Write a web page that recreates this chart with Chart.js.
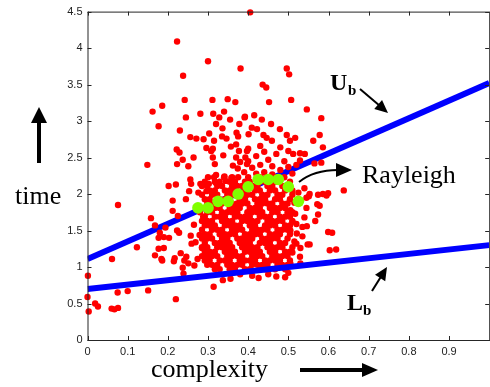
<!DOCTYPE html>
<html>
<head>
<meta charset="utf-8">
<script src="https://cdn.jsdelivr.net/npm/chart.js@4.4.1/dist/chart.umd.min.js"></script>
<style>
html, body { margin: 0; padding: 0; background: #fff; overflow: hidden; }
canvas { display: block; }
</style>
</head>
<body>
<canvas id="myChart" width="495" height="387"></canvas>
<script>
// tick values
const xTicks = [0, 0.1, 0.2, 0.3, 0.4, 0.5, 0.6, 0.7, 0.8, 0.9];
const yTicks = [0, 0.5, 1, 1.5, 2, 2.5, 3, 3.5, 4, 4.5];

// bound lines (complexity -> time)
const upperBound = [[0, 1.11], [1, 3.52]];
const lowerBound = [[0, 0.70], [1, 1.30]];

// rayleigh points (green)
const rayleighX = [0.275, 0.300, 0.325, 0.350, 0.375, 0.400, 0.425, 0.450, 0.475, 0.500, 0.525];
const rayleighY = [1.81, 1.81, 1.90, 1.90, 2.00, 2.10, 2.20, 2.20, 2.20, 2.10, 1.90];

// scattered samples, read one by one
const samples = [
  [0.223,4.09],[0.300,3.82],[0.381,3.72],[0.238,3.62],[0.242,3.29],[0.311,3.29],[0.349,3.30],[0.368,3.26],
  [0.162,3.13],[0.186,3.21],[0.177,2.93],[0.245,3.05],[0.281,3.10],[0.313,3.10],[0.328,3.05],[0.340,3.13],
  [0.355,3.02],[0.378,2.96],[0.392,3.06],[0.230,2.87],[0.320,2.96],[0.336,2.90],[0.256,2.78],[0.271,2.76],
  [0.289,2.75],[0.303,2.83],[0.315,2.73],[0.335,2.79],[0.346,2.76],[0.357,2.65],[0.370,2.68],[0.371,2.84],
  [0.375,2.79],[0.397,2.59],[0.222,2.61],[0.229,2.57],[0.237,2.47],[0.264,2.50],[0.296,2.63],[0.312,2.62],
  [0.308,2.59],[0.312,2.50],[0.338,2.53],[0.370,2.50],[0.377,2.59],[0.393,2.50],[0.251,2.38],[0.223,2.41],
  [0.149,2.40],[0.317,2.41],[0.362,2.39],[0.374,2.35],[0.397,2.41],[0.256,2.20],[0.320,2.26],[0.341,2.24],
  [0.358,2.22],[0.202,2.11],[0.220,2.13],[0.258,2.14],[0.281,2.14],[0.290,2.14],[0.302,2.14],[0.320,2.15],
  [0.344,2.18],[0.212,1.91],[0.245,1.93],[0.253,2.04],[0.276,2.02],[0.296,2.04],
  [0.076,1.85],[0.158,1.67],[0.168,1.57],[0.194,1.54],[0.212,1.77],[0.225,1.70],[0.223,1.50],[0.228,1.47],
  [0.180,1.47],[0.177,1.40],[0.190,1.41],[0.203,1.40],[0.177,1.25],[0.168,1.16],[0.184,1.11],[0.186,1.09],
  [0.123,1.27],[0.190,1.26],[0.217,1.12],[0.215,1.08],[0.232,1.19],[0.237,0.99],[0.239,0.91],[0.241,1.09],
  [0.257,1.43],[0.259,1.32],[0.246,1.14],[0.251,1.05],[0.266,1.02],[0.274,1.11],[0.265,1.58],[0.269,1.34],
  [0.279,1.44],[0.285,1.26],[0.280,1.75],[0.288,1.69],[0.061,1.11],[0.001,0.88],[0.000,0.59],[0.003,0.39],
  [0.019,0.50],[0.026,0.46],[0.060,0.43],[0.067,0.42],[0.076,0.44],[0.075,0.65],[0.100,0.67],[0.151,0.68],
  [0.220,0.56],[0.314,0.73],[0.337,0.82],[0.356,0.84],[0.426,0.85],[0.492,0.86],
  [0.603,1.23],[0.619,1.24],[0.599,1.48],[0.609,1.47],[0.548,1.31],[0.553,1.31],[0.535,1.42],[0.546,1.56],
  [0.567,1.63],[0.574,1.72],[0.572,1.86],[0.578,1.84],[0.545,1.81],[0.551,1.97],[0.574,1.99],[0.595,1.98],
  [0.531,1.91],[0.517,1.73],[0.520,1.59],[0.521,1.46],[0.520,1.32],[0.529,1.14],
  [0.405,4.49],[0.496,3.72],[0.502,3.64],[0.436,3.50],[0.445,3.46],[0.452,3.26],[0.507,3.29],[0.546,3.16],
  [0.582,3.04],[0.391,3.05],[0.415,3.08],[0.434,3.02],[0.457,2.96],[0.479,2.89],[0.409,2.91],[0.422,2.89],
  [0.401,2.82],[0.438,2.81],[0.446,2.77],[0.459,2.73],[0.496,2.81],[0.504,2.73],[0.517,2.77],[0.562,2.73],
  [0.578,2.81],[0.586,2.64],[0.480,2.64],[0.500,2.59],[0.512,2.55],[0.529,2.56],[0.541,2.55],[0.565,2.42],
  [0.582,2.43],[0.529,2.46],[0.638,2.05],[0.586,2.00],[0.553,2.00],[0.599,2.01],
  [0.400,2.45],[0.410,2.36],[0.420,2.52],[0.430,2.40],[0.440,2.30],[0.450,2.47],[0.460,2.38],[0.470,2.55],
  [0.480,2.33],[0.490,2.45],[0.420,2.28],[0.390,2.30],[0.400,2.62],[0.440,2.58],[0.460,2.27],[0.500,2.37],
  [0.510,2.28],[0.380,2.44],[0.430,2.66],[0.520,2.40],
  [0.505,1.05],[0.510,1.20],[0.515,1.35],[0.505,1.50],[0.510,1.62],[0.505,1.78],[0.515,1.88],[0.530,1.26],
  [0.535,1.55],[0.540,1.68],[0.530,1.05],[0.525,2.02],[0.540,2.08],[0.545,1.95],
  [0.380,0.90],[0.410,0.88],[0.450,0.90],[0.470,0.87],[0.500,0.92],[0.360,0.92]
];

// the dense middle of the cloud, read row by row: [time, complexities]
const denseRows = [
  [2.23, [0.300,0.315,0.340,0.360,0.375,0.400,0.430,0.445,0.470,0.490]],
  [2.17, [0.292,0.317,0.329,0.354,0.367,0.392,0.404,0.429,0.442,0.467,0.479,0.504]],
  [2.11, [0.285,0.298,0.323,0.335,0.360,0.373,0.385,0.410,0.423,0.448,0.460,0.485,0.498]],
  [2.05, [0.304,0.317,0.342,0.354,0.367,0.392,0.417,0.429,0.454,0.467,0.492,0.510]],
  [1.99, [0.285,0.310,0.323,0.348,0.360,0.385,0.398,0.410,0.435,0.448,0.473,0.485,0.510]],
  [1.93, [0.292,0.304,0.329,0.342,0.354,0.379,0.392,0.417,0.429,0.442,0.467,0.479,0.504]],
  [1.87, [0.298,0.310,0.323,0.335,0.360,0.373,0.385,0.398,0.423,0.435,0.448,0.460,0.485,0.498]],
  [1.81, [0.304,0.317,0.329,0.354,0.367,0.379,0.404,0.417,0.429,0.454,0.467,0.479,0.492]],
  [1.75, [0.298,0.310,0.335,0.348,0.360,0.373,0.398,0.410,0.423,0.435,0.460,0.473,0.498,0.510]],
  [1.69, [0.292,0.317,0.329,0.342,0.367,0.379,0.392,0.404,0.429,0.442,0.454,0.479,0.492,0.504]],
  [1.63, [0.285,0.298,0.310,0.335,0.348,0.360,0.385,0.398,0.410,0.423,0.448,0.460,0.473,0.485,0.510]],
  [1.57, [0.292,0.304,0.317,0.342,0.354,0.367,0.379,0.404,0.417,0.442,0.454,0.467,0.492,0.504]],
  [1.51, [0.285,0.310,0.323,0.335,0.360,0.373,0.385,0.410,0.423,0.435,0.448,0.473,0.485,0.498]],
  [1.45, [0.292,0.304,0.329,0.342,0.354,0.367,0.392,0.404,0.417,0.429,0.454,0.467,0.479,0.504]],
  [1.39, [0.285,0.298,0.310,0.335,0.348,0.373,0.385,0.398,0.410,0.435,0.448,0.460,0.473,0.498]],
  [1.33, [0.292,0.317,0.329,0.342,0.354,0.379,0.392,0.404,0.429,0.442,0.454,0.479,0.492]],
  [1.27, [0.285,0.298,0.323,0.335,0.348,0.360,0.385,0.398,0.410,0.423,0.448,0.460,0.473,0.485,0.510]],
  [1.21, [0.292,0.304,0.317,0.342,0.354,0.367,0.392,0.404,0.417,0.429,0.454,0.467,0.492,0.504]],
  [1.15, [0.285,0.298,0.310,0.323,0.348,0.360,0.373,0.385,0.410,0.423,0.435,0.460,0.473,0.485,0.498]],
  [1.09, [0.292,0.304,0.329,0.342,0.354,0.379,0.392,0.404,0.417,0.442,0.454,0.467,0.479,0.504]],
  [1.03, [0.298,0.310,0.323,0.348,0.360,0.373,0.385,0.410,0.423,0.435,0.448,0.473,0.485,0.498]],
  [0.97, [0.317,0.329,0.354,0.367,0.392,0.404,0.429,0.442,0.467,0.492]]
];

let redPts = samples.map(p => ({ x: p[0], y: p[1] }));
denseRows.forEach(row => {
  row[1].forEach(x => redPts.push({ x: x, y: row[0] }));
});
const greenPts = rayleighX.map((x, i) => ({ x: x, y: rayleighY[i] }));
const ubPts = upperBound.map(p => ({ x: p[0], y: p[1] }));
const lbPts = lowerBound.map(p => ({ x: p[0], y: p[1] }));

function arrowHead(ctx, tipX, tipY, angle, len, half) {
  ctx.save();
  ctx.translate(tipX, tipY);
  ctx.rotate(angle);
  ctx.beginPath();
  ctx.moveTo(0, 0);
  ctx.lineTo(-len, -half);
  ctx.lineTo(-len, half);
  ctx.closePath();
  ctx.fill();
  ctx.restore();
}

// frame, inward ticks, labels and arrows
const decorations = {
  id: 'decorations',
  afterDraw(chart) {
    const ctx = chart.ctx;
    const a = chart.chartArea;
    const xs = chart.scales.x, ys = chart.scales.y;
    ctx.save();
    ctx.strokeStyle = '#262626';
    ctx.lineWidth = 1;
    ctx.strokeRect(a.left + 0.5, a.top + 0.5, a.right - a.left, a.bottom - a.top);
    ctx.beginPath();
    xTicks.forEach(v => {
      const px = Math.round(xs.getPixelForValue(v)) + 0.5;
      ctx.moveTo(px, a.bottom); ctx.lineTo(px, a.bottom - 4);
      ctx.moveTo(px, a.top); ctx.lineTo(px, a.top + 4);
    });
    yTicks.forEach(v => {
      const py = Math.round(ys.getPixelForValue(v)) + 0.5;
      ctx.moveTo(a.left, py); ctx.lineTo(a.left + 4, py);
      ctx.moveTo(a.right, py); ctx.lineTo(a.right - 4, py);
    });
    ctx.stroke();

    ctx.fillStyle = '#000';
    ctx.strokeStyle = '#000';
    ctx.textBaseline = 'alphabetic';
    ctx.textAlign = 'left';

    // axis titles
    ctx.font = '26px "Liberation Serif"';
    ctx.fillText('time', 15, 204);
    ctx.fillText('complexity', 151, 377);

    // up arrow
    ctx.lineWidth = 4;
    ctx.beginPath();
    ctx.moveTo(39, 163); ctx.lineTo(39, 118);
    ctx.stroke();
    arrowHead(ctx, 39, 107, -Math.PI / 2, 16, 8);

    // right arrow
    ctx.beginPath();
    ctx.moveTo(300, 370); ctx.lineTo(364, 370);
    ctx.stroke();
    arrowHead(ctx, 378, 370, 0, 16, 7);

    // U_b
    ctx.font = 'bold 24px "Liberation Serif"';
    ctx.fillText('U', 330, 90);
    ctx.font = 'bold 15px "Liberation Serif"';
    ctx.fillText('b', 348, 95);
    ctx.lineWidth = 2;
    ctx.beginPath();
    ctx.moveTo(360, 89); ctx.lineTo(380, 106);
    ctx.stroke();
    arrowHead(ctx, 388, 113, Math.atan2(24, 28), 13, 6);

    // L_b
    ctx.font = 'bold 24px "Liberation Serif"';
    ctx.fillText('L', 347, 310);
    ctx.font = 'bold 15px "Liberation Serif"';
    ctx.fillText('b', 363, 315);
    ctx.beginPath();
    ctx.moveTo(372, 291); ctx.lineTo(382, 275);
    ctx.stroke();
    arrowHead(ctx, 387, 267, Math.atan2(-24, 15), 13, 6);

    // Rayleigh
    ctx.font = '26px "Liberation Serif"';
    ctx.fillText('Rayleigh', 362, 183);
    ctx.lineWidth = 2;
    ctx.beginPath();
    ctx.moveTo(299, 182);
    ctx.quadraticCurveTo(314, 170, 338, 170);
    ctx.stroke();
    arrowHead(ctx, 352, 170, 0, 16, 7);
    ctx.restore();
  }
};

const config = {
  type: 'scatter',
  data: {
    datasets: [
      { label: 'Rayleigh', data: greenPts, backgroundColor: '#80ff00', borderWidth: 0,
        pointRadius: 5.8, pointHoverRadius: 5.8, order: 0, clip: false },
      { label: 'Lb', data: lbPts, showLine: true, borderColor: '#0000ff', borderWidth: 6,
        pointRadius: 0, order: 1 },
      { label: 'samples', data: redPts, backgroundColor: '#ff0000', borderWidth: 0,
        pointRadius: 3.2, pointHoverRadius: 3.2, order: 2, clip: false },
      { label: 'Ub', data: ubPts, showLine: true, borderColor: '#0000ff', borderWidth: 6,
        pointRadius: 0, order: 3 }
    ]
  },
  options: {
    responsive: false,
    animation: false,
    layout: { padding: { left: 0, top: 10, right: 3, bottom: 0 } },
    plugins: { legend: { display: false }, tooltip: { enabled: false } },
    scales: {
      x: {
        type: 'linear', min: 0, max: 1,
        afterFit: s => { s.height = 47; },
        grid: { display: false, drawTicks: false },
        border: { display: false },
        ticks: {
          stepSize: 0.1, padding: 5, maxRotation: 0, autoSkip: false,
          color: '#222', font: { family: 'Liberation Sans', size: 11 },
          callback: v => (v >= 0.99 ? '' : String(Math.round(v * 10) / 10))
        }
      },
      y: {
        min: 0, max: 4.5,
        afterFit: s => { s.width = 87.5; },
        grid: { display: false, drawTicks: false },
        border: { display: false },
        ticks: {
          stepSize: 0.5, padding: 5,
          color: '#222', font: { family: 'Liberation Sans', size: 11 },
          callback: v => String(Math.round(v * 10) / 10)
        }
      }
    }
  },
  plugins: [decorations]
};

new Chart(document.getElementById('myChart'), config);
</script>
</body>
</html>
